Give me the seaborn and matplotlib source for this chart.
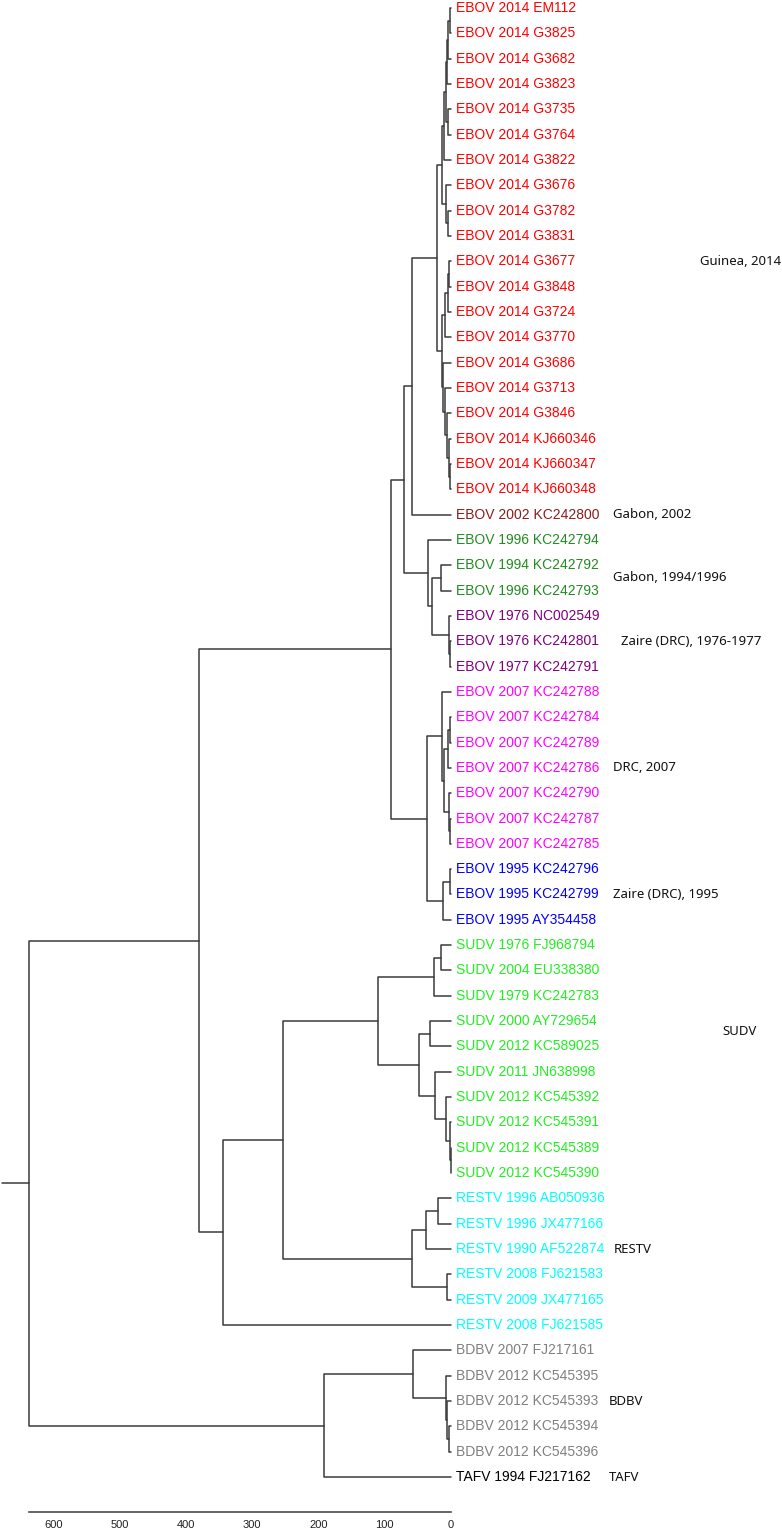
import numpy as np
import pandas as pd
import matplotlib
matplotlib.use("Agg")
import matplotlib.pyplot as plt
import seaborn as sns

# ==================================================
# DATA - leaves (top to bottom), groups, tree merges
# ==================================================

leaf_labels = [
    "EBOV 2014 EM112", "EBOV 2014 G3825", "EBOV 2014 G3682", "EBOV 2014 G3823",
    "EBOV 2014 G3735", "EBOV 2014 G3764", "EBOV 2014 G3822", "EBOV 2014 G3676",
    "EBOV 2014 G3782", "EBOV 2014 G3831", "EBOV 2014 G3677", "EBOV 2014 G3848",
    "EBOV 2014 G3724", "EBOV 2014 G3770", "EBOV 2014 G3686", "EBOV 2014 G3713",
    "EBOV 2014 G3846", "EBOV 2014 KJ660346", "EBOV 2014 KJ660347", "EBOV 2014 KJ660348",
    "EBOV 2002 KC242800",
    "EBOV 1996 KC242794", "EBOV 1994 KC242792", "EBOV 1996 KC242793",
    "EBOV 1976 NC002549", "EBOV 1976 KC242801", "EBOV 1977 KC242791",
    "EBOV 2007 KC242788", "EBOV 2007 KC242784", "EBOV 2007 KC242789", "EBOV 2007 KC242786",
    "EBOV 2007 KC242790", "EBOV 2007 KC242787", "EBOV 2007 KC242785",
    "EBOV 1995 KC242796", "EBOV 1995 KC242799", "EBOV 1995 AY354458",
    "SUDV 1976 FJ968794", "SUDV 2004 EU338380", "SUDV 1979 KC242783", "SUDV 2000 AY729654",
    "SUDV 2012 KC589025", "SUDV 2011 JN638998", "SUDV 2012 KC545392", "SUDV 2012 KC545391",
    "SUDV 2012 KC545389", "SUDV 2012 KC545390",
    "RESTV 1996 AB050936", "RESTV 1996 JX477166", "RESTV 1990 AF522874",
    "RESTV 2008 FJ621583", "RESTV 2009 JX477165", "RESTV 2008 FJ621585",
    "BDBV 2007 FJ217161", "BDBV 2012 KC545395", "BDBV 2012 KC545393",
    "BDBV 2012 KC545394", "BDBV 2012 KC545396",
    "TAFV 1994 FJ217162",
]

group_texts = ["Guinea, 2014", "Gabon, 2002", "Gabon, 1994/1996", "Zaire (DRC), 1976-1977",
               "DRC, 2007", "Zaire (DRC), 1995", "SUDV", "RESTV", "BDBV", "TAFV"]
group_sizes = [20, 1, 3, 3, 7, 3, 10, 6, 5, 1]
group_colors = ["#ff0000", "#8b1c1c", "#228b22", "#800080", "#ff00ff",
                "#0000ff", "#22ee22", "#00ffff", "#808080", "#000000"]

# (node, left child, right child, distance)
tree_merges = [
    ("a1", "EM112", "G3825", 1.5), ("a2", "a1", "G3682", 4.5), ("a3", "a2", "G3823", 6),
    ("a4", "G3735", "G3764", 4), ("a5", "a3", "a4", 8), ("a6", "a5", "G3822", 10.5),
    ("a7", "G3782", "G3831", 5), ("a8", "G3676", "a7", 8), ("gA", "a6", "a8", 14),
    ("b1", "G3677", "G3848", 2.5), ("b2", "b1", "G3724", 5), ("b3", "b2", "G3770", 9),
    ("b4", "KJ660347", "KJ660348", 1), ("b5", "KJ660346", "b4", 3), ("b6", "G3846", "b5", 6),
    ("b7", "G3713", "b6", 9.5), ("b8", "G3686", "b7", 12), ("gB", "b3", "b8", 14),
    ("g2014", "gA", "gB", 21), ("g2002", "g2014", "KC242800", 59),
    ("z76a", "KC242801", "KC242791", 1), ("z76", "NC002549", "z76a", 3),
    ("gab1", "KC242792", "KC242793", 15), ("gz", "gab1", "z76", 29),
    ("gabz", "KC242794", "gz", 35), ("ebovA", "g2002", "gabz", 71),
    ("d1", "KC242784", "KC242789", 1.5), ("d2", "d1", "KC242786", 4),
    ("d3", "KC242787", "KC242785", 1.5), ("d4", "KC242790", "d3", 3),
    ("d5", "d2", "d4", 11), ("drc", "KC242788", "d5", 13),
    ("z95a", "KC242796", "KC242799", 1), ("z95", "z95a", "AY354458", 11.5),
    ("drcz", "drc", "z95", 36), ("ebov", "ebovA", "drcz", 90.5),
    ("s1", "FJ968794", "EU338380", 15), ("s2", "s1", "KC242783", 25),
    ("s3", "AY729654", "KC589025", 31.5), ("s4", "KC545389", "KC545390", 0.5),
    ("s5", "KC545391", "s4", 2), ("s6", "KC545392", "s5", 8), ("s7", "JN638998", "s6", 24),
    ("s8", "s3", "s7", 49), ("sudv", "s2", "s8", 110.5),
    ("r1", "AB050936", "JX477166", 20), ("r2", "r1", "AF522874", 37.5),
    ("r3", "FJ621583", "JX477165", 6.5), ("r4", "r2", "r3", 59),
    ("sr", "sudv", "r4", 254), ("srf", "sr", "FJ621585", 344), ("main", "ebov", "srf", 380),
    ("bd1", "KC545394", "KC545396", 3.5), ("bd2", "KC545393", "bd1", 5.5),
    ("bd3", "KC545395", "bd2", 7.5), ("bdbv", "FJ217161", "bd3", 58),
    ("bt", "bdbv", "FJ217162", 191), ("root", "main", "bt", 636.5),
]
root_stub = 677

# label placement (leaf rows / distance units)
group_label_row = [10, 20, 22.5, 25, 30, 35, 40.4, 49, 55, 58]
group_label_x = [-376, -244, -244, -256, -244, -244, -410, -246, -238, -238]

# ==================================================
# BUILD SEGMENTS
# ==================================================

leaf_ids = [s.split()[-1] for s in leaf_labels]
leaf_colors = np.repeat(group_colors, group_sizes)

pos_y = {k: float(i) for i, k in enumerate(leaf_ids)}
pos_x = {k: 0.0 for k in leaf_ids}
rows = []
for node, left, right, h in tree_merges:
    pos_y[node] = (pos_y[left] + pos_y[right]) / 2
    pos_x[node] = h
    pts = [(pos_x[left], pos_y[left]), (h, pos_y[left]),
           (h, pos_y[right]), (pos_x[right], pos_y[right])]
    for k, (x, y) in enumerate(pts):
        rows.append({"node": node, "order": k, "x": x, "y": y})
rows.append({"node": "stub", "order": 0, "x": pos_x["root"], "y": pos_y["root"]})
rows.append({"node": "stub", "order": 1, "x": root_stub, "y": pos_y["root"]})
seg = pd.DataFrame(rows)

# ==================================================
# PLOT
# ==================================================

sns.set_theme(style="white")
plt.rcParams["font.family"] = ["Liberation Sans", "DejaVu Sans"]

fig = plt.figure(figsize=(7.82, 15.32), dpi=100)
ax = fig.add_axes([0, 1 - 1512 / 1532, 1, 1512 / 1532])

sns.lineplot(data=seg, x="x", y="y", units="node", estimator=None, sort=False,
             color="#3a3a3a", linewidth=1.1, legend=False, ax=ax)

for i, (lab, col) in enumerate(zip(leaf_labels, leaf_colors)):
    ax.text(-7.5, i, lab, color=col, fontsize=10, va="center", ha="left",
            family="Liberation Sans")

for txt, r, x in zip(group_texts, group_label_row, group_label_x):
    ax.text(x, r, txt, color="#111111", fontsize=9.5, va="center", ha="left",
            family="Noto Sans")

ax.set_xlim(680.4, -499.4)
ax.set_ylim(59.38, -0.316)
ax.set_xlabel("")
ax.set_ylabel("")
ax.set_yticks([])
ax.set_xticks(np.arange(0, 700, 100))
sns.despine(ax=ax, left=True)
ax.spines["bottom"].set_bounds(0, 636.5)
ax.spines["bottom"].set_color("#3a3a3a")
ax.spines["bottom"].set_linewidth(1.1)
ax.tick_params(axis="x", direction="inout", length=7, width=1.1, pad=2,
               labelsize=8, colors="#3a3a3a", labelcolor="#222222")

fig.savefig("out.png", dpi=100)
